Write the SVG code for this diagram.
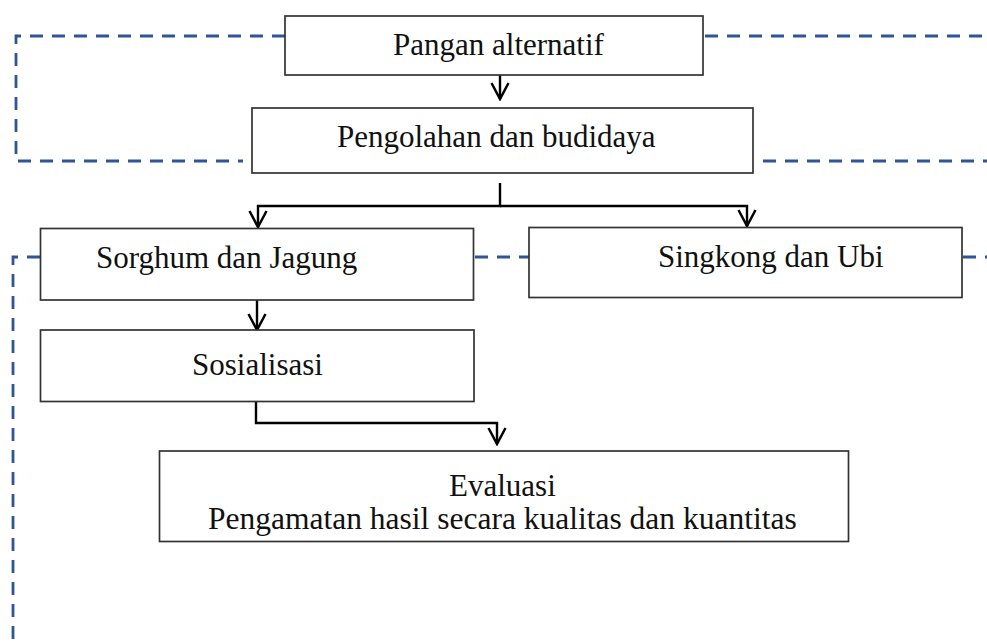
<svg xmlns="http://www.w3.org/2000/svg" width="987" height="644" viewBox="0 0 987 644">
  <style>
    .box { fill: #ffffff; stroke: #333333; stroke-width: 1.7; }
    .lbl { font-family: "Liberation Serif", "Times New Roman", serif; font-size: 31px; fill: #111111; }
    .dash { fill: none; stroke: #2F5597; stroke-width: 2.8; stroke-dasharray: 13 9; }
    .conn { fill: none; stroke: #000000; stroke-width: 2.4; }
  </style>
  <defs>
    <marker id="vhead" markerUnits="userSpaceOnUse" viewBox="-18 -11 20 22" markerWidth="20" markerHeight="22" refX="0" refY="0" orient="auto">
      <path d="M-16,-8.5 L0,0 L-16,8.5" fill="none" stroke="#000000" stroke-width="2.5"/>
    </marker>
  </defs>

  <g id="dashed-loops">
    <path class="dash" d="M285,36 H16 V161 H243"/>
    <path class="dash" d="M705,36 H987"/>
    <path class="dash" d="M763,161 H987"/>
    <path class="dash" d="M40,257 H13 V644"/>
    <path class="dash" d="M475,257 H529"/>
    <path class="dash" d="M963,257 H987"/>
  </g>

  <g id="connectors">
    <path class="conn" d="M500,75 V99" marker-end="url(#vhead)"/>
    <path class="conn" d="M500,183 V206 H258 V227" marker-end="url(#vhead)"/>
    <path class="conn" d="M500,206 H747 V226" marker-end="url(#vhead)"/>
    <path class="conn" d="M257,300 V330" marker-end="url(#vhead)"/>
    <path class="conn" d="M256,401 V423 H497 V444" marker-end="url(#vhead)"/>
  </g>

  <g id="pangan-alternatif">
    <rect class="box" x="285" y="16" width="418" height="59"/>
    <text class="lbl" x="393" y="55">Pangan alternatif</text>
  </g>
  <g id="pengolahan">
    <rect class="box" x="252" y="108" width="501" height="65"/>
    <text class="lbl" x="337" y="147">Pengolahan dan budidaya</text>
  </g>
  <g id="sorghum">
    <rect class="box" x="40.5" y="228.5" width="433" height="71.5"/>
    <text class="lbl" x="96" y="268">Sorghum dan Jagung</text>
  </g>
  <g id="singkong">
    <rect class="box" x="529" y="227.5" width="433" height="70"/>
    <text class="lbl" x="658" y="267">Singkong dan Ubi</text>
  </g>
  <g id="sosialisasi">
    <rect class="box" x="40.5" y="330" width="433.5" height="71.5"/>
    <text class="lbl" x="192" y="375">Sosialisasi</text>
  </g>
  <g id="evaluasi">
    <rect class="box" x="159.5" y="451" width="689" height="90.5"/>
    <text class="lbl" x="449" y="496">Evaluasi</text>
    <text class="lbl" x="208" y="529" style="font-size:31.5px">Pengamatan hasil secara kualitas dan kuantitas</text>
  </g>
</svg>
